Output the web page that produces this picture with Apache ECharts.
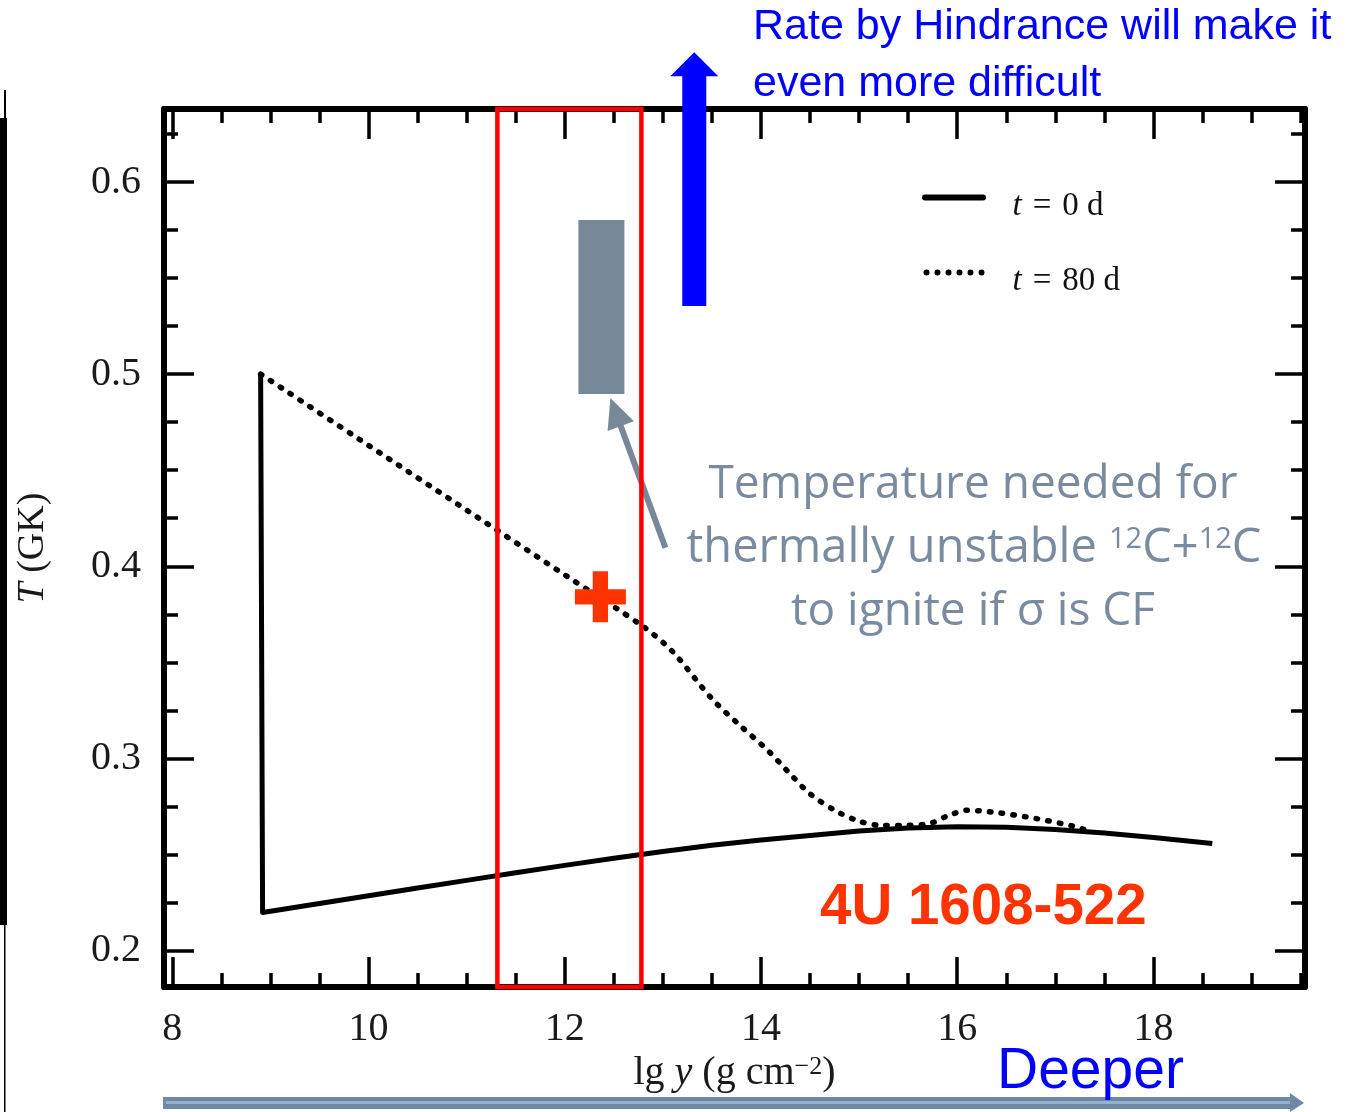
<!DOCTYPE html>
<html><head><meta charset="utf-8">
<script src="https://cdn.jsdelivr.net/npm/echarts@6/dist/echarts.min.js"></script>
<style>html,body{margin:0;padding:0;background:#fff}#c{width:1355px;height:1112px}</style>
</head><body><div id="c"></div>
<script>
// ---- axis ranges & ticks ----
const xRange = [7.915, 19.545];
const yRange = [0.181, 0.638];
const xMajor = [8, 10, 12, 14, 16, 18];
const xMinor = [8.5, 9, 9.5, 10.5, 11, 11.5, 12.5, 13, 13.5, 14.5, 15, 15.5, 16.5, 17, 17.5, 18.5, 19, 19.5];
const yMajor = [0.2, 0.3, 0.4, 0.5, 0.6];
const yMinor = [0.225, 0.25, 0.275, 0.325, 0.35, 0.375, 0.425, 0.45, 0.475, 0.525, 0.55, 0.575, 0.625];

// ---- series: t = 0 d (solid) ----
const t0X = [8.9, 8.92, 9.5, 10, 10.5, 11, 11.5, 12, 12.5, 13, 13.5, 14, 14.5, 15, 15.5, 16, 16.5, 17, 17.5, 18, 18.6];
const t0Y = [0.5, 0.2198, 0.2245, 0.2285, 0.2325, 0.2365, 0.2405, 0.2443, 0.248, 0.2515, 0.2548, 0.2575, 0.2598, 0.2622, 0.2637, 0.2644, 0.2641, 0.263, 0.2611, 0.2588, 0.2557];

// ---- series: t = 80 d (dotted) ----
const t80X = [8.9, 10, 11, 12, 12.8, 13.1, 13.5, 13.8, 14.06, 14.32, 14.5, 14.75, 15.0, 15.25, 15.5, 15.72, 15.9, 16.1, 16.4, 16.8, 17.2, 17.35];
const t80Y = [0.5, 0.4629, 0.4292, 0.3955, 0.3686, 0.3555, 0.331, 0.3165, 0.3046, 0.2907, 0.2815, 0.273, 0.2673, 0.265, 0.2652, 0.2661, 0.27, 0.273, 0.2718, 0.2687, 0.2645, 0.2618];

// ---- annotations (data coordinates) ----
const ignitionBox = [12.139, 0.4897, 12.608, 0.5802];   // grey box: x0,y0,x1,y1
const windowBox = [11.313, 12.781];                     // red frame x-range
const starPoint = [12.363, 0.3841];                     // red plus
const pointerArrow = [13.026, 0.4096, 12.465, 0.4876];  // grey arrow tail -> tip
const hindranceArrow = [13.32, 0.5355, 0.6676];         // blue arrow x, yBottom, yTip

const serif = 'Liberation Serif';
function xAxisDef(pos, ticks, len, main) {
  return {
    type: 'value', position: pos, min: xRange[0], max: xRange[1],
    axisLine: { show: main, onZero: false, lineStyle: { color: '#000', width: 6 } },
    axisTick: { show: true, inside: true, customValues: ticks, length: len, lineStyle: { color: '#000', width: 3.5 } },
    axisLabel: (main && pos === 'bottom') ? { customValues: xMajor, margin: 22, fontFamily: serif, fontSize: 40, color: '#1a1a1a' } : { show: false },
    splitLine: { show: false },
    name: (main && pos === 'bottom') ? 'lg {i|y} (g cm{s|−2})' : '',
    nameLocation: 'middle', nameGap: 64,
    nameTextStyle: { fontFamily: serif, fontSize: 40, color: '#1a1a1a',
      rich: { i: { fontFamily: serif, fontSize: 40, fontStyle: 'italic', color: '#1a1a1a' },
              s: { fontFamily: serif, fontSize: 26, verticalAlign: 'top', color: '#1a1a1a' } } }
  };
}
function yAxisDef(pos, ticks, len, main) {
  return {
    type: 'value', position: pos, min: yRange[0], max: yRange[1],
    axisLine: { show: main, onZero: false, lineStyle: { color: '#000', width: 6 } },
    axisTick: { show: true, inside: true, customValues: ticks, length: len, lineStyle: { color: '#000', width: 3.5 } },
    axisLabel: (main && pos === 'left') ? { customValues: yMajor, margin: 23, fontFamily: serif, fontSize: 40, color: '#1a1a1a', formatter: v => v.toFixed(1) } : { show: false },
    splitLine: { show: false },
    name: (main && pos === 'left') ? '{i|T} (GK)' : '',
    nameLocation: 'middle', nameGap: 112,
    nameTextStyle: { fontFamily: serif, fontSize: 38, color: '#1a1a1a',
      rich: { i: { fontFamily: serif, fontSize: 38, fontStyle: 'italic', color: '#1a1a1a' } } }
  };
}

const dot = (cx) => `M${cx - 3},3A3,3,0,1,1,${cx + 3},3A3,3,0,1,1,${cx - 3},3Z`;
const solidIcon = 'path://M3,0H61A3,3,0,0,1,61,6H3A3,3,0,0,1,3,0Z';
const dottedIcon = 'path://' + [3, 14, 25, 36, 47, 58].map(dot).join('');

const chart = echarts.init(document.getElementById('c'), null, { renderer: 'canvas' });
const option = {
  backgroundColor: '#fff',
  animation: false,
  grid: { left: 164, right: 50, top: 109, bottom: 125, outerBoundsMode: 'none' },
  xAxis: [
    xAxisDef('bottom', xMajor, 30, true),
    xAxisDef('bottom', xMinor, 14, false),
    xAxisDef('top', xMajor, 30, true),
    xAxisDef('top', xMinor, 14, false)
  ],
  yAxis: [
    yAxisDef('left', yMajor, 30, true),
    yAxisDef('left', yMinor, 14, false),
    yAxisDef('right', yMajor, 30, true),
    yAxisDef('right', yMinor, 14, false)
  ],
  legend: {
    data: [{ name: 't = 0 d', icon: solidIcon }, { name: 't = 80 d', icon: dottedIcon }],
    orient: 'vertical', left: 922, top: 190, padding: 0,
    itemWidth: 65, itemHeight: 6, itemGap: 42, selectedMode: false,
    itemStyle: { color: '#000', borderWidth: 0 },
    formatter: n => '{i|t}\u2004=\u2004' + n.slice(4),
    textStyle: { fontFamily: serif, fontSize: 33, color: '#111', padding: [18, 0, 0, 21],
      rich: { i: { fontFamily: serif, fontSize: 33, fontStyle: 'italic', color: '#111' } } }
  },
  series: [
    { type: 'custom', name: 'ignition', silent: true, z: 2,
      data: [ignitionBox],
      renderItem: (p, api) => {
        const a = api.coord([api.value(0), api.value(1)]);
        const b = api.coord([api.value(2), api.value(3)]);
        return { type: 'rect', shape: { x: Math.min(a[0], b[0]), y: Math.min(a[1], b[1]), width: Math.abs(b[0] - a[0]), height: Math.abs(b[1] - a[1]) }, style: { fill: '#778899' } };
      } },
    { type: 'custom', name: 'pointer', silent: true, z: 2,
      data: [pointerArrow],
      renderItem: (p, api) => {
        const a = api.coord([api.value(0), api.value(1)]);
        const b = api.coord([api.value(2), api.value(3)]);
        const dx = b[0] - a[0], dy = b[1] - a[1], L = Math.hypot(dx, dy);
        const ux = dx / L, uy = dy / L, hl = 30, hw = 14;
        const bx = b[0] - ux * hl, by = b[1] - uy * hl;
        return { type: 'group', children: [
          { type: 'line', shape: { x1: a[0], y1: a[1], x2: bx + ux * 4, y2: by + uy * 4 }, style: { stroke: '#778899', lineWidth: 6 } },
          { type: 'polygon', shape: { points: [[b[0], b[1]], [bx - uy * hw, by + ux * hw], [bx + uy * hw, by - ux * hw]] }, style: { fill: '#778899' } }
        ] };
      } },
    { type: 'line', name: 't = 0 d', data: t0X.map((x, i) => [x, t0Y[i]]), symbol: 'none', z: 3,
      lineStyle: { color: '#000', width: 5, join: 'round' }, itemStyle: { color: '#000' } },
    { type: 'line', name: 't = 80 d', data: t80X.map((x, i) => [x, t80Y[i]]), symbol: 'none', smooth: 0.3, z: 3,
      lineStyle: { color: '#000', width: 5.5, type: [1.5, 10.3], cap: 'round' }, itemStyle: { color: '#000' } },
    { type: 'custom', name: 'window', silent: true, z: 5,
      data: [[windowBox[0], yRange[0], windowBox[1], yRange[1]]],
      renderItem: (p, api) => {
        const a = api.coord([api.value(0), api.value(1)]);
        const b = api.coord([api.value(2), api.value(3)]);
        return { type: 'rect', shape: { x: a[0], y: b[1], width: b[0] - a[0], height: a[1] - b[1] }, style: { fill: null, stroke: '#ff0000', lineWidth: 4.5 } };
      } },
    { type: 'scatter', name: 'star', silent: true, z: 6, data: [starPoint],
      symbol: 'path://M35,0H65V35H100V65H65V100H35V65H0V35H35Z', symbolSize: 51,
      itemStyle: { color: '#ff3300', opacity: 1 } },
    { type: 'custom', name: 'hindrance', silent: true, z: 6, clip: false,
      data: [hindranceArrow],
      renderItem: (p, api) => {
        const a = api.coord([api.value(0), api.value(1)]);
        const t = api.coord([api.value(0), api.value(2)]);
        const hh = 24, sw = 12, hw = 24;
        return { type: 'group', children: [
          { type: 'rect', shape: { x: a[0] - sw, y: t[1] + hh - 1, width: 2 * sw, height: a[1] - t[1] - hh + 1 }, style: { fill: '#0000ff' } },
          { type: 'polygon', shape: { points: [[a[0], t[1]], [a[0] - hw, t[1] + hh], [a[0] + hw, t[1] + hh]] }, style: { fill: '#0000ff' } }
        ] };
      } }
  ],
  graphic: [
    { type: 'rect', shape: { x: 0, y: 118, width: 7, height: 807 }, style: { fill: '#000' } },
    { type: 'rect', shape: { x: 4, y: 90, width: 2, height: 28 }, style: { fill: '#000' } },
    { type: 'rect', shape: { x: 4, y: 925, width: 1.5, height: 187 }, style: { fill: '#000' } },
    { type: 'rect', shape: { x: 163, y: 1097, width: 1128, height: 12 }, style: { fill: '#6f88a3' } },
    { type: 'rect', shape: { x: 166, y: 1101, width: 1124, height: 3 }, style: { fill: '#93b2d2' } },
    { type: 'polygon', shape: { points: [[1290, 1093], [1304, 1103], [1290, 1112]] }, style: { fill: '#6f88a3' } },
    { type: 'text', x: 753, y: 27, style: { text: 'Rate by Hindrance will make it', font: '43px "Liberation Sans"', fill: '#0000ff', align: 'left', verticalAlign: 'middle' } },
    { type: 'text', x: 753, y: 84, style: { text: 'even more difficult', font: '43px "Liberation Sans"', fill: '#0000ff', align: 'left', verticalAlign: 'middle' } },
    { type: 'text', x: 973, y: 485, style: { text: 'Temperature needed for', font: '46px "Open Sans"', fill: '#7a8a9f', align: 'center', verticalAlign: 'middle' } },
    { type: 'text', x: 974, y: 549, style: { text: 'thermally unstable {s|12}C+{s|12}C', font: '47px "Open Sans"', fill: '#7a8a9f', align: 'center', verticalAlign: 'middle',
        rich: { s: { fontSize: 29, fontFamily: 'Open Sans', fill: '#7a8a9f', verticalAlign: 'top' } } } },
    { type: 'text', x: 973, y: 612, style: { text: 'to ignite if σ is CF', font: '46px "Open Sans"', fill: '#7a8a9f', align: 'center', verticalAlign: 'middle' } },
    { type: 'text', x: 820, y: 908, style: { text: '4U 1608-522', font: 'bold 56.5px "Liberation Sans"', fill: '#ff3300', align: 'left', verticalAlign: 'middle' } },
    { type: 'text', x: 997, y: 1072, style: { text: 'Deeper', font: '57px "Liberation Sans"', fill: '#0000ff', align: 'left', verticalAlign: 'middle' } }
  ]
};
chart.setOption(option);
</script></body></html>
